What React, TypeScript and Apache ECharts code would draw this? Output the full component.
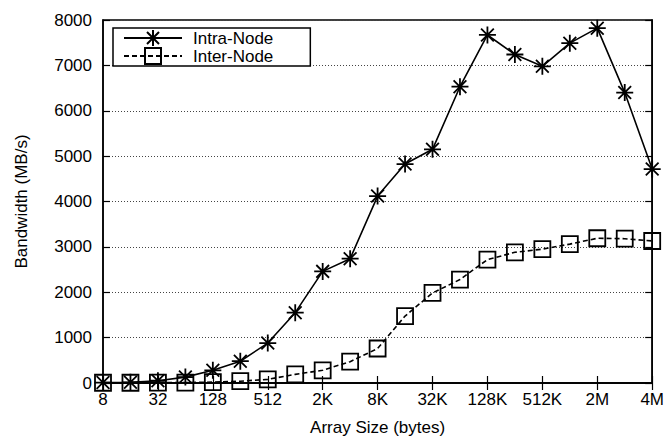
import React, { useEffect, useRef } from "react";
import * as echarts from "echarts";

const sizes = ["8", "16", "32", "64", "128", "256", "512", "1K", "2K", "4K", "8K", "16K", "32K", "64K", "128K", "256K", "512K", "1M", "2M", "4M", "8M"];
const tickLabels = ["8", "", "32", "", "128", "", "512", "", "2K", "", "8K", "", "32K", "", "128K", "", "512K", "", "2M", "", "4M"];
const intraNode = [10, 15, 50, 130, 280, 480, 880, 1550, 2460, 2740, 4120, 4825, 5150, 6530, 7670, 7240, 6980, 7490, 7820, 6400, 4715];
const interNode = [5, 5, 10, 10, 20, 40, 80, 190, 280, 470, 760, 1475, 1985, 2280, 2720, 2880, 2950, 3060, 3190, 3180, 3130];
const yTicks = { min: 0, max: 8000, interval: 1000 };

const FONT = "'Liberation Sans', Arial, Helvetica, sans-serif";
const FS = 17;
const STAR = "path://M0 8L16 8M8 0L8 16M2 2L14 14M2 14L14 2";

export default function App() {
  const ref = useRef<HTMLDivElement>(null);
  useEffect(() => {
    if (!ref.current) return;
    const chart = echarts.init(ref.current, null, { renderer: "svg" });
    const showIdx = (i: number) => tickLabels[i] !== "";
    chart.setOption({
      animation: false,
      backgroundColor: "#fff",
      textStyle: { fontFamily: FONT },
      grid: { left: 103, right: 12, top: 20, bottom: 54, show: true, borderColor: "#000", borderWidth: 1.5, backgroundColor: "transparent" },
      legend: {
        orient: "vertical",
        left: 113,
        top: 28,
        padding: [1, 37, 1, 10],
        itemWidth: 58,
        itemHeight: 20,
        itemGap: 0,
        backgroundColor: "#fff",
        borderColor: "#000",
        borderWidth: 1.5,
        borderRadius: 0,
        textStyle: { fontSize: FS, color: "#000", fontFamily: FONT, padding: [0, 0, 0, 6] },
        data: ["Intra-Node", "Inter-Node"],
      },
      xAxis: [
        {
          type: "category",
          data: sizes,
          boundaryGap: false,
          name: "Array Size (bytes)",
          nameLocation: "middle",
          nameGap: 36,
          nameTextStyle: { fontSize: FS, color: "#000", fontFamily: FONT },
          axisLine: { show: true, lineStyle: { color: "#000", width: 1.5 } },
          axisTick: { show: true, inside: true, length: 7, interval: (i: number) => showIdx(i), lineStyle: { color: "#000", width: 1.2 } },
          axisLabel: { interval: (i: number) => showIdx(i), formatter: (_v: string, i: number) => tickLabels[i], fontSize: FS, color: "#000", fontFamily: FONT, margin: 8 },
          splitLine: { show: false },
        },
        {
          type: "category",
          data: sizes,
          boundaryGap: false,
          position: "top",
          axisLine: { show: true, lineStyle: { color: "#000", width: 1.5 } },
          axisTick: { show: true, inside: true, length: 7, interval: (i: number) => showIdx(i), lineStyle: { color: "#000", width: 1.2 } },
          axisLabel: { show: false },
          splitLine: { show: false },
        },
      ],
      yAxis: [
        {
          type: "value",
          min: yTicks.min,
          max: yTicks.max,
          interval: yTicks.interval,
          name: "Bandwidth (MB/s)",
          nameLocation: "middle",
          nameGap: 73,
          nameTextStyle: { fontSize: FS, color: "#000", fontFamily: FONT },
          axisLine: { show: true, lineStyle: { color: "#000", width: 1.5 } },
          axisTick: { show: true, inside: true, length: 7, lineStyle: { color: "#000", width: 1.2 } },
          axisLabel: { fontSize: FS, color: "#000", fontFamily: FONT, margin: 11, formatter: (v: number) => String(v) },
          splitLine: { show: true, lineStyle: { color: "#444", width: 1, type: [1, 2] } },
        },
        {
          type: "value",
          min: yTicks.min,
          max: yTicks.max,
          interval: yTicks.interval,
          position: "right",
          axisLine: { show: true, lineStyle: { color: "#000", width: 1.5 } },
          axisTick: { show: true, inside: true, length: 7, lineStyle: { color: "#000", width: 1.2 } },
          axisLabel: { show: false },
          splitLine: { show: false },
        },
      ],
      series: [
        {
          name: "Intra-Node",
          type: "line",
          data: intraNode,
          symbol: STAR,
          symbolSize: 17,
          showAllSymbol: true,
          lineStyle: { color: "#000", width: 1.6, type: "solid" },
          itemStyle: { color: "#000", borderColor: "#000", borderWidth: 1.8 },
          z: 3,
        },
        {
          name: "Inter-Node",
          type: "line",
          data: interNode,
          symbol: "rect",
          symbolSize: 16,
          showAllSymbol: true,
          lineStyle: { color: "#000", width: 1.6, type: [5, 3] },
          itemStyle: { color: "rgba(0,0,0,0)", borderColor: "#000", borderWidth: 1.8 },
          z: 2,
        },
      ],
    });
    return () => chart.dispose();
  }, []);
  return <div ref={ref} style={{ width: 667, height: 441, position: "absolute", left: 0, top: 0 }} />;
}
